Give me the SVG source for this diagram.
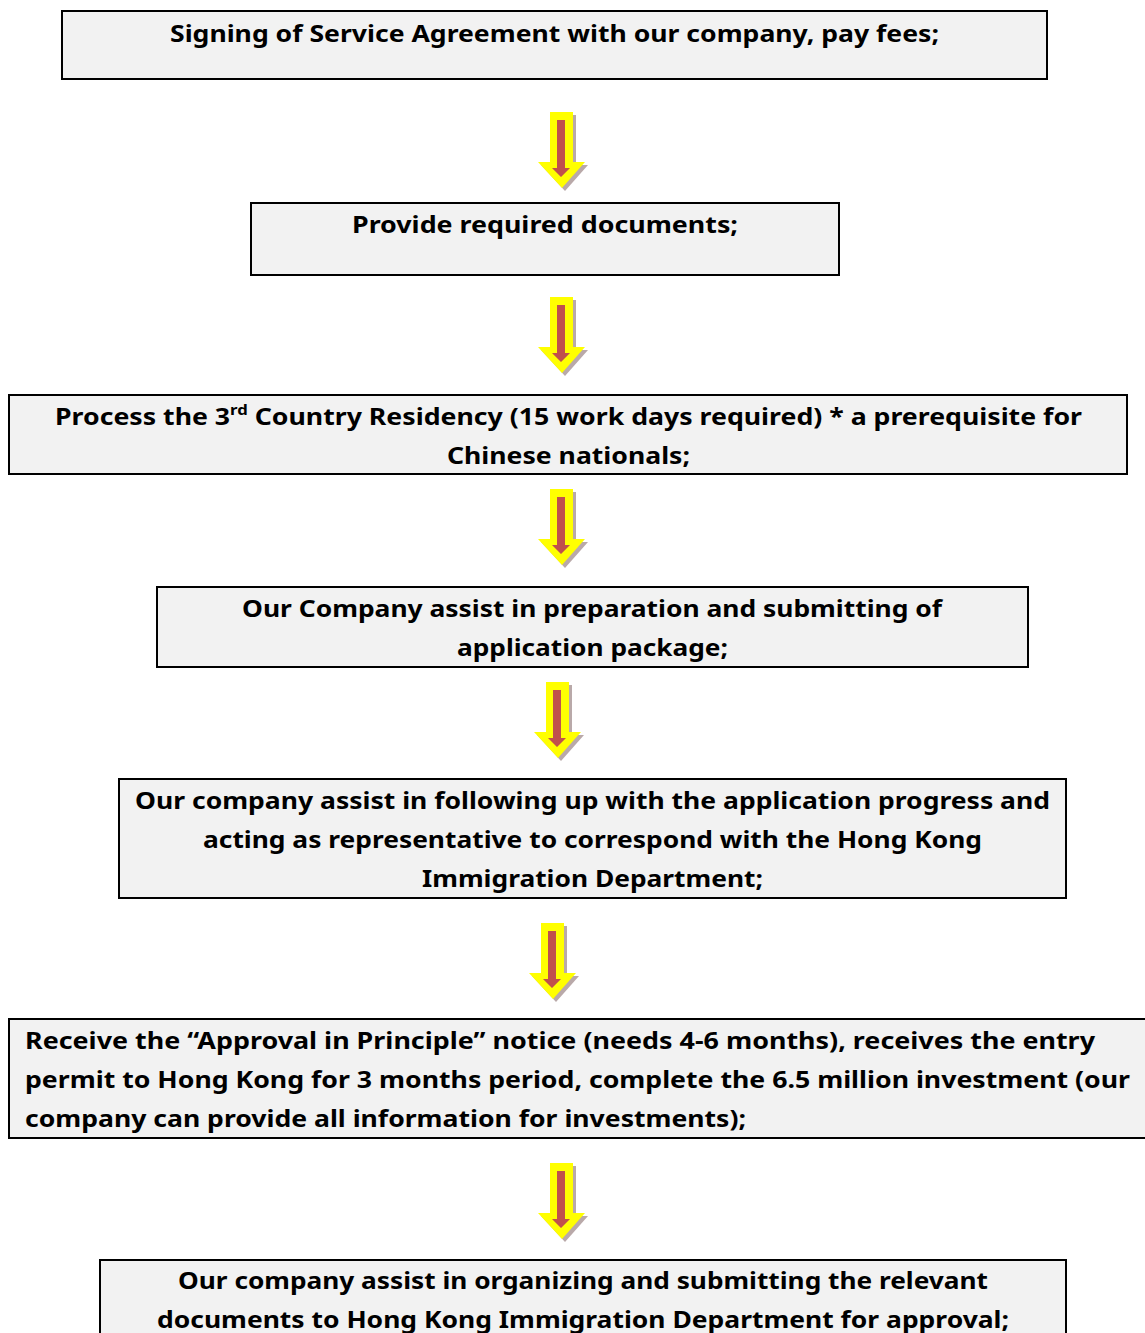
<svg xmlns="http://www.w3.org/2000/svg" xmlns:xlink="http://www.w3.org/1999/xlink" width="1145" height="1333" viewBox="0 0 1145 1333">
<style>
.box{fill:#f2f2f2;stroke:#000;stroke-width:2}
.t{font-family:"Noto Sans","Open Sans","Liberation Sans",sans-serif;font-weight:bold;font-size:24px;fill:#000}
.c{text-anchor:middle}
.y{fill:#ffff00}
.r{fill:#c0504d}
.s{fill:#8a7070;opacity:0.6}
</style>
<defs>
<g id="arrow">
<polygon class="s" transform="translate(3,3)" points="-12,0 11,0 11,50 23,50 0,76 -24,50 -12,50"/>
<polygon class="y" points="-12,0 11,0 11,50 23,50 0,76 -24,50 -12,50"/>
<polygon class="r" points="-5,8 3,8 3,56 8,56 -1,65 -10,56 -5,56"/>
</g>
</defs>
<rect width="1145" height="1333" fill="#fff"/>
<g id="connectors">
<use xlink:href="#arrow" href="#arrow" x="562" y="112"/>
<use xlink:href="#arrow" href="#arrow" x="562" y="297"/>
<use xlink:href="#arrow" href="#arrow" x="562" y="489"/>
<use xlink:href="#arrow" href="#arrow" x="558" y="682"/>
<use xlink:href="#arrow" href="#arrow" x="553" y="923"/>
<use xlink:href="#arrow" href="#arrow" x="562" y="1163"/>
</g>
<g id="n1">
<rect class="box" x="62" y="11" width="985" height="68"/>
<text class="t c" x="554.5" y="42" textLength="769" lengthAdjust="spacingAndGlyphs">Signing of Service Agreement with our company, pay fees;</text>
</g>
<g id="n2">
<rect class="box" x="251" y="203" width="588" height="72"/>
<text class="t c" x="545" y="233" textLength="386" lengthAdjust="spacingAndGlyphs">Provide required documents;</text>
</g>
<g id="n3">
<rect class="box" x="9" y="395" width="1118" height="79"/>
<text class="t" x="55" y="425" textLength="1027" lengthAdjust="spacingAndGlyphs">Process the 3<tspan font-size="15" dy="-10">rd</tspan><tspan dy="10"> Country Residency (15 work days required) * a prerequisite for</tspan></text>
<text class="t c" x="568.5" y="464" textLength="243" lengthAdjust="spacingAndGlyphs">Chinese nationals;</text>
</g>
<g id="n4">
<rect class="box" x="157" y="587" width="871" height="80"/>
<text class="t c" x="592" y="617" textLength="700" lengthAdjust="spacingAndGlyphs">Our Company assist in preparation and submitting of</text>
<text class="t c" x="592.5" y="656" textLength="271" lengthAdjust="spacingAndGlyphs">application package;</text>
</g>
<g id="n5">
<rect class="box" x="119" y="779" width="947" height="119"/>
<text class="t c" x="592.5" y="809" textLength="915" lengthAdjust="spacingAndGlyphs">Our company assist in following up with the application progress and</text>
<text class="t c" x="592.5" y="848" textLength="779" lengthAdjust="spacingAndGlyphs">acting as representative to correspond with the Hong Kong</text>
<text class="t c" x="592.5" y="887" textLength="341" lengthAdjust="spacingAndGlyphs">Immigration Department;</text>
</g>
<g id="n6">
<rect class="box" x="9" y="1019" width="1150" height="119"/>
<text class="t" x="25" y="1049" textLength="1070" lengthAdjust="spacingAndGlyphs">Receive the “Approval in Principle” notice (needs 4-6 months), receives the entry</text>
<text class="t" x="25" y="1088" textLength="1105" lengthAdjust="spacingAndGlyphs">permit to Hong Kong for 3 months period, complete the 6.5 million investment (our</text>
<text class="t" x="25" y="1127" textLength="721" lengthAdjust="spacingAndGlyphs">company can provide all information for investments);</text>
</g>
<g id="n7">
<rect class="box" x="100" y="1260" width="966" height="100"/>
<text class="t c" x="583" y="1289" textLength="810" lengthAdjust="spacingAndGlyphs">Our company assist in organizing and submitting the relevant</text>
<text class="t c" x="583" y="1328" textLength="852" lengthAdjust="spacingAndGlyphs">documents to Hong Kong Immigration Department for approval;</text>
</g>
</svg>
